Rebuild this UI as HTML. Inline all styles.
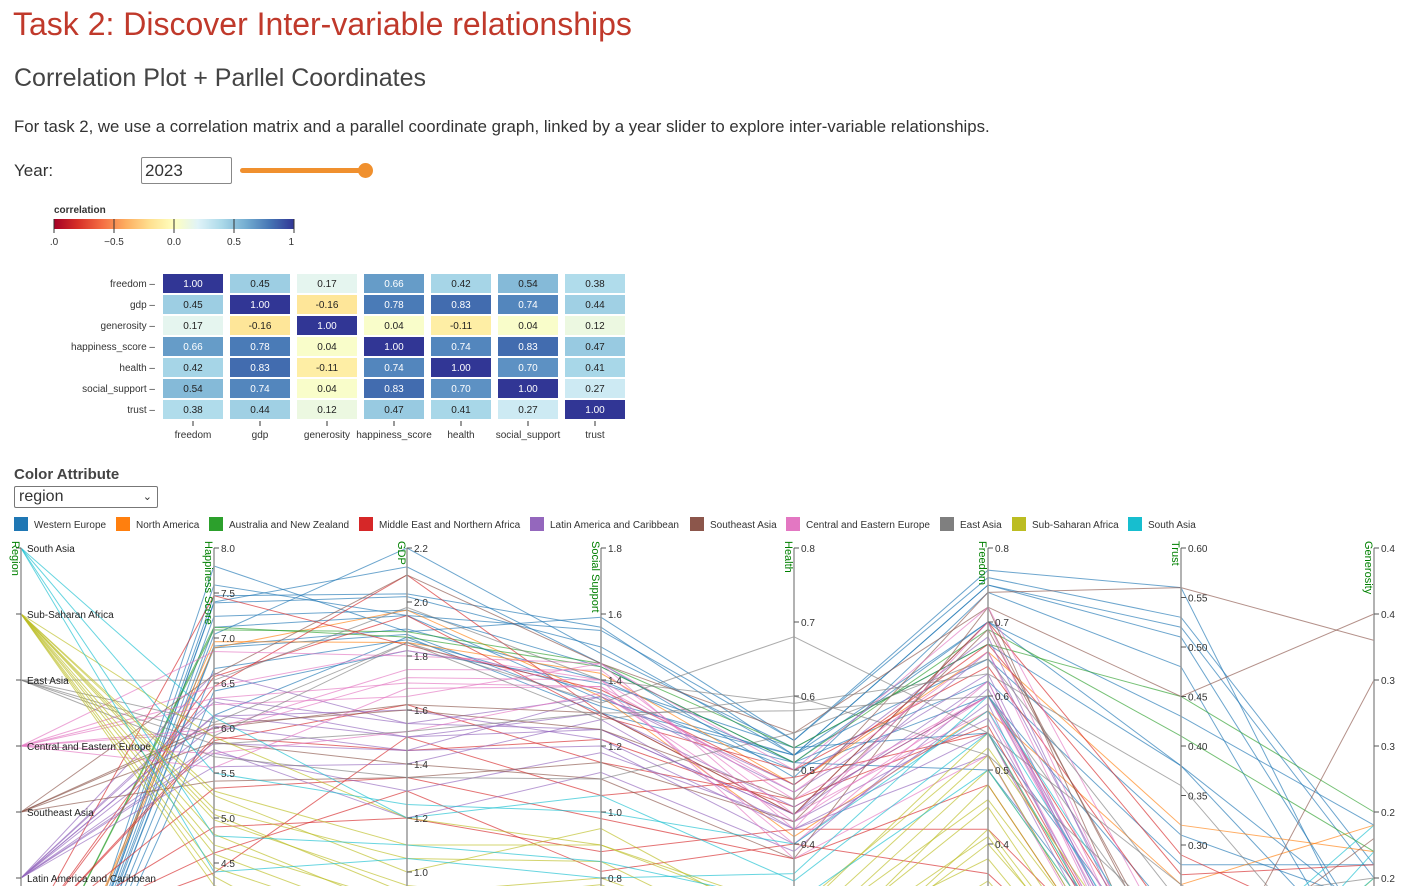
<!DOCTYPE html>
<html style="overflow:hidden"><head><meta charset="utf-8"><style>
html,body{margin:0;width:1407px;height:886px;overflow:hidden}
body{background:#fff;font-family:"Liberation Sans",sans-serif;color:#333;position:relative}
.abs{position:absolute;white-space:nowrap}
</style></head><body>
<div class="abs" style="left:13px;top:6px;font-size:32px;color:#c0392b">Task 2: Discover Inter-variable relationships</div>
<div class="abs" style="left:14px;top:64px;font-size:25px;color:#444">Correlation Plot + Parllel Coordinates</div>
<div class="abs" style="left:14px;top:117px;font-size:16.8px;color:#333">For task 2, we use a correlation matrix and a parallel coordinate graph, linked by a year slider to explore inter-variable relationships.</div>
<div class="abs" style="left:14px;top:161px;font-size:17px">Year:</div>
<div class="abs" style="left:141px;top:157px;width:86px;height:25px;border:1px solid #888;border-radius:2px;font-size:17px;line-height:26px;padding-left:3px">2023</div>
<div class="abs" style="left:240px;top:168px;width:128px;height:5px;background:#f0902e;border-radius:3px"></div>
<div class="abs" style="left:358px;top:163px;width:15px;height:15px;background:#f0902e;border-radius:50%"></div>
<div class="abs" style="left:14px;top:466px;font-size:15px;font-weight:bold;color:#444">Color Attribute</div>
<div class="abs" style="left:14px;top:486px;width:138px;height:20px;border:1px solid #777;border-radius:2px;font-size:16px;line-height:20px;padding-left:4px;overflow:hidden">region<span style="position:absolute;right:5px;top:0;font-size:11px">&#8964;</span></div>
<svg id="main" width="1407" height="886" style="position:absolute;left:0;top:0;display:block"></svg>
<script>
const NS="http://www.w3.org/2000/svg";
const svg=document.getElementById('main');
function mk(tag,attrs,parent){const e=document.createElementNS(NS,tag);for(const k in attrs)e.setAttribute(k,attrs[k]);(parent||svg).appendChild(e);return e;}
function txt(s,attrs,parent){const e=mk('text',attrs,parent);e.textContent=s;return e;}

const vars=["freedom","gdp","generosity","happiness_score","health","social_support","trust"];
const corrRow0=[1.00,0.45,0.17,0.66,0.42,0.54,0.38];
const corrRow1=[0.45,1.00,-0.16,0.78,0.83,0.74,0.44];
const corrRow2=[0.17,-0.16,1.00,0.04,-0.11,0.04,0.12];
const corrRow3=[0.66,0.78,0.04,1.00,0.74,0.83,0.47];
const corrRow4=[0.42,0.83,-0.11,0.74,1.00,0.70,0.41];
const corrRow5=[0.54,0.74,0.04,0.83,0.70,1.00,0.27];
const corrRow6=[0.38,0.44,0.12,0.47,0.41,0.27,1.00];
const corr=[corrRow0,corrRow1,corrRow2,corrRow3,corrRow4,corrRow5,corrRow6];
const legendTicks=[-1,-0.5,0,0.5,1];
const legendTickLabels=[".0","\u22120.5","0.0","0.5","1"];

const stops=["#a50026","#d73027","#f46d43","#fdae61","#fee090","#ffffbf","#e0f3f8","#abd9e9","#74add1","#4575b4","#313695"];
function hex(c){return [1,3,5].map(i=>parseInt(c.substr(i,2),16));}
function color(v){let t=(v+1)/2*10;let i=Math.min(9,Math.floor(t));let f=t-i;const a=hex(stops[i]),b=hex(stops[i+1]);return 'rgb('+a.map((x,j)=>Math.round(x+(b[j]-x)*f)).join(',')+')';}

const g0=mk('g',{});


txt("correlation",{x:54,y:213,'font-size':10,'font-weight':'bold',fill:'#333'},g0);
const grad=mk('linearGradient',{id:'lg'},mk('defs',{}));
stops.forEach((c,i)=>mk('stop',{offset:(i*10)+'%','stop-color':c},grad));
mk('rect',{x:54,y:219,width:240,height:10,fill:'url(#lg)'},g0);
const lx=v=>54+(v+1)/2*240;
legendTicks.forEach((v,i)=>{mk('line',{x1:lx(v),x2:lx(v),y1:219,y2:233,stroke:'#333'},g0);
 txt(legendTickLabels[i],{x:lx(v),y:245,'font-size':10,'text-anchor':i==4?'end':'middle',fill:'#333'},g0);});

const cx=j=>163+j*67, ry=i=>274+i*21;
corr.forEach((row,i)=>{
 const lab=txt(vars[i]+" \u2013",{x:155,y:ry(i)+13,'font-size':10,'text-anchor':'end',fill:'#333'});
 
 
 row.forEach((v,j)=>{
  const r=mk('rect',{x:cx(j),y:ry(i),width:60,height:19,fill:color(v)});
  
  
  txt(v.toFixed(2),{x:cx(j)+30,y:ry(i)+13,'font-size':10,'text-anchor':'middle',fill:v>0.6?'#fff':'#222'});
 });
});
vars.forEach((v,j)=>{mk('line',{x1:cx(j)+30,x2:cx(j)+30,y1:421,y2:426,stroke:'#333'});
 const t=txt(v,{x:cx(j)+30,y:438,'font-size':10,'text-anchor':'middle',fill:'#333'});
 
 });

const regions=["South Asia","Sub-Saharan Africa","East Asia","Central and Eastern Europe","Southeast Asia","Latin America and Caribbean","Middle East and Northern Africa","Australia and New Zealand","North America","Western Europe"];
const legendOrder=["Western Europe","North America","Australia and New Zealand","Middle East and Northern Africa","Latin America and Caribbean","Southeast Asia","Central and Eastern Europe","East Asia","Sub-Saharan Africa","South Asia"];
const legendX=[14,116,209,359,530,690,786,940,1012,1128];
const regionColors={"Western Europe":"#1f77b4","North America":"#ff7f0e","Australia and New Zealand":"#2ca02c","Middle East and Northern Africa":"#d62728","Latin America and Caribbean":"#9467bd","Southeast Asia":"#8c564b","Central and Eastern Europe":"#e377c2","East Asia":"#7f7f7f","Sub-Saharan Africa":"#bcbd22","South Asia":"#17becf"};
// region index, happiness, gdp, social, health, freedom, trust, generosity
const rows=[
[9,7.80,1.89,1.59,0.54,0.77,0.56,0.13],[9,7.59,1.95,1.55,0.54,0.76,0.53,0.21],[9,7.47,2.03,1.56,0.52,0.75,0.52,0.20],
[9,7.40,2.13,1.45,0.49,0.74,0.48,0.11],[9,7.39,2.02,1.50,0.52,0.75,0.51,0.15],[9,7.24,1.97,1.44,0.51,0.70,0.38,0.17],
[9,7.12,1.95,1.34,0.52,0.70,0.43,0.24],[9,7.04,2.20,1.48,0.53,0.67,0.38,0.13],[9,6.91,1.90,1.40,0.51,0.62,0.28,0.21],
[9,6.89,1.88,1.32,0.52,0.65,0.31,0.18],[9,6.66,1.86,1.36,0.50,0.60,0.22,0.12],[9,6.41,1.82,1.39,0.53,0.55,0.15,0.11],
[9,6.14,1.87,1.30,0.51,0.50,0.12,0.13],[8,6.96,1.85,1.42,0.48,0.66,0.32,0.22],[8,6.89,1.97,1.35,0.41,0.58,0.26,0.24],
[7,7.12,1.87,1.44,0.51,0.69,0.41,0.22],[7,7.09,1.89,1.45,0.53,0.67,0.45,0.25],
[6,7.47,1.84,1.37,0.48,0.67,0.27,0.21],[6,6.57,1.95,1.29,0.50,0.64,0.21,0.13],[6,6.46,2.10,1.30,0.44,0.70,0.29,0.15],
[6,5.86,1.62,1.15,0.46,0.56,0.08,0.12],[6,5.33,1.35,0.98,0.38,0.48,0.07,0.08],[6,4.90,1.20,0.88,0.42,0.42,0.12,0.05],
[6,4.61,1.30,0.82,0.40,0.36,0.09,0.10],[6,4.39,1.50,1.05,0.49,0.55,0.07,0.05],[6,5.90,1.45,1.22,0.45,0.60,0.14,0.08],
[5,6.61,1.55,1.35,0.48,0.68,0.10,0.10],[5,6.29,1.50,1.30,0.45,0.60,0.10,0.09],[5,6.33,1.55,1.25,0.44,0.62,0.07,0.08],
[5,6.13,1.60,1.22,0.42,0.55,0.05,0.07],[5,6.02,1.45,1.35,0.47,0.63,0.08,0.06],[5,5.83,1.45,1.20,0.40,0.59,0.04,0.05],
[5,5.72,1.30,1.18,0.43,0.57,0.08,0.07],[5,6.14,1.50,1.25,0.44,0.66,0.12,0.09],[5,5.76,1.20,1.12,0.39,0.61,0.10,0.07],
[5,5.57,1.40,1.28,0.42,0.52,0.06,0.05],[4,6.59,2.10,1.45,0.55,0.72,0.45,0.40],[4,6.00,1.62,1.30,0.44,0.70,0.15,0.18],
[4,5.84,1.40,1.10,0.38,0.72,0.10,0.35],[4,6.04,1.60,1.25,0.46,0.74,0.56,0.38],[4,5.41,1.35,1.15,0.43,0.69,0.16,0.23],
[3,6.85,1.80,1.45,0.50,0.72,0.18,0.11],[3,6.46,1.82,1.40,0.46,0.60,0.12,0.12],[3,6.33,1.70,1.38,0.47,0.66,0.09,0.10],
[3,6.26,1.65,1.45,0.42,0.70,0.10,0.08],[3,5.99,1.75,1.43,0.44,0.58,0.07,0.09],[3,5.72,1.52,1.36,0.43,0.60,0.09,0.07],
[3,5.56,1.68,1.38,0.40,0.62,0.06,0.06],[3,5.95,1.72,1.40,0.38,0.52,0.05,0.05],
[2,6.53,1.98,1.40,0.59,0.63,0.36,0.10],[2,6.06,1.85,1.28,0.60,0.52,0.21,0.06],[2,5.82,1.52,1.30,0.58,0.60,0.18,0.08],
[2,5.91,1.85,1.33,0.68,0.55,0.26,0.10],[2,5.68,1.35,1.10,0.55,0.65,0.24,0.20],
[1,5.90,1.20,0.90,0.30,0.55,0.08,0.16],[1,5.25,1.00,0.95,0.28,0.52,0.06,0.18],[1,5.04,0.92,0.80,0.26,0.50,0.10,0.15],
[1,4.82,0.85,0.75,0.24,0.45,0.05,0.12],[1,4.60,0.80,0.70,0.22,0.48,0.07,0.14],[1,4.45,0.78,0.68,0.20,0.40,0.08,0.17],
[1,4.25,0.70,0.65,0.18,0.42,0.06,0.13],[1,5.10,1.05,0.85,0.25,0.38,0.05,0.10],[1,4.98,0.95,0.72,0.27,0.46,0.09,0.20],
[1,4.35,0.60,0.62,0.19,0.35,0.04,0.16],[1,4.70,0.88,0.78,0.23,0.41,0.05,0.11],[1,5.30,1.10,0.90,0.31,0.53,0.12,0.19],
[0,6.12,1.20,1.05,0.35,0.55,0.08,0.22],[0,5.50,1.25,1.00,0.40,0.58,0.12,0.18],[0,4.80,1.10,0.85,0.32,0.50,0.10,0.20],
[0,4.40,1.05,0.80,0.36,0.60,0.15,0.24]
];
const dims=["Region","Happiness Score","GDP","Social Support","Health","Freedom","Trust","Generosity"];
const axisX=[21,214,407,601,794,988,1181,1374];
const top0=548;
const dimTop=[null,8.0,2.2,1.8,0.8,0.8,0.60,0.45];
const dimScale=[null,90,270,330,740,740,990,1320];
const tickVals=[[],[8.0,7.5,7.0,6.5,6.0,5.5,5.0,4.5],[2.2,2.0,1.8,1.6,1.4,1.2,1.0],[1.8,1.6,1.4,1.2,1.0,0.8],[0.8,0.7,0.6,0.5,0.4],[0.8,0.7,0.6,0.5,0.4],[0.60,0.55,0.50,0.45,0.40,0.35,0.30],[0.45,0.40,0.35,0.30,0.25,0.20]];
const tickLabels=[[],["8.0","7.5","7.0","6.5","6.0","5.5","5.0","4.5"],["2.2","2.0","1.8","1.6","1.4","1.2","1.0"],["1.8","1.6","1.4","1.2","1.0","0.8"],["0.8","0.7","0.6","0.5","0.4"],["0.8","0.7","0.6","0.5","0.4"],["0.60","0.55","0.50","0.45","0.40","0.35","0.30"],["0.4","0.4","0.3","0.3","0.2","0.2"]];
function yScale(d,v){if(d==0)return top0+v*66;return top0+(dimTop[d]-v)*dimScale[d];}

legendOrder.forEach((r,i)=>{
 const g=mk('g',{});
 
 
 mk('rect',{x:legendX[i],y:517,width:14,height:14,fill:regionColors[r]},g);
 txt(r,{x:legendX[i]+20,y:528,'font-size':10,fill:'#333'},g);
});

const lines=mk('g',{'stroke-width':1,fill:'none'});


rows.forEach(r=>{
 const pts=r.map((v,d)=>axisX[d]+','+yScale(d,v).toFixed(1)).join(' ');
 const p=mk('polyline',{points:pts,stroke:regionColors[regions[r[0]]],'stroke-opacity':0.65},lines);
 
 
});

dims.forEach((d,i)=>{
 const g=mk('g',{});
 
 
 mk('line',{x1:axisX[i],x2:axisX[i],y1:top0,y2:886,stroke:'#999','stroke-width':1.5},g);
 if(i==0){regions.slice(0,6).forEach((r,k)=>{const y=yScale(0,k);mk('line',{x1:axisX[0]-5,x2:axisX[0],y1:y,y2:y,stroke:'#555'},g);
   txt(r,{x:axisX[0]+6,y:y+4,'font-size':10,fill:'#222'},g);});}
 else tickVals[i].forEach((v,k)=>{const y=yScale(i,v);mk('line',{x1:axisX[i],x2:axisX[i]+5,y1:y,y2:y,stroke:'#555'},g);
   txt(tickLabels[i][k],{x:axisX[i]+7,y:y+4,'font-size':10,fill:'#333'},g);});
 const t=txt(d,{x:0,y:0,'font-size':11,fill:'green',transform:'translate('+(axisX[i]-9)+','+(top0-7)+') rotate(90)'},g);
 
 
});
</script>
</body></html>
